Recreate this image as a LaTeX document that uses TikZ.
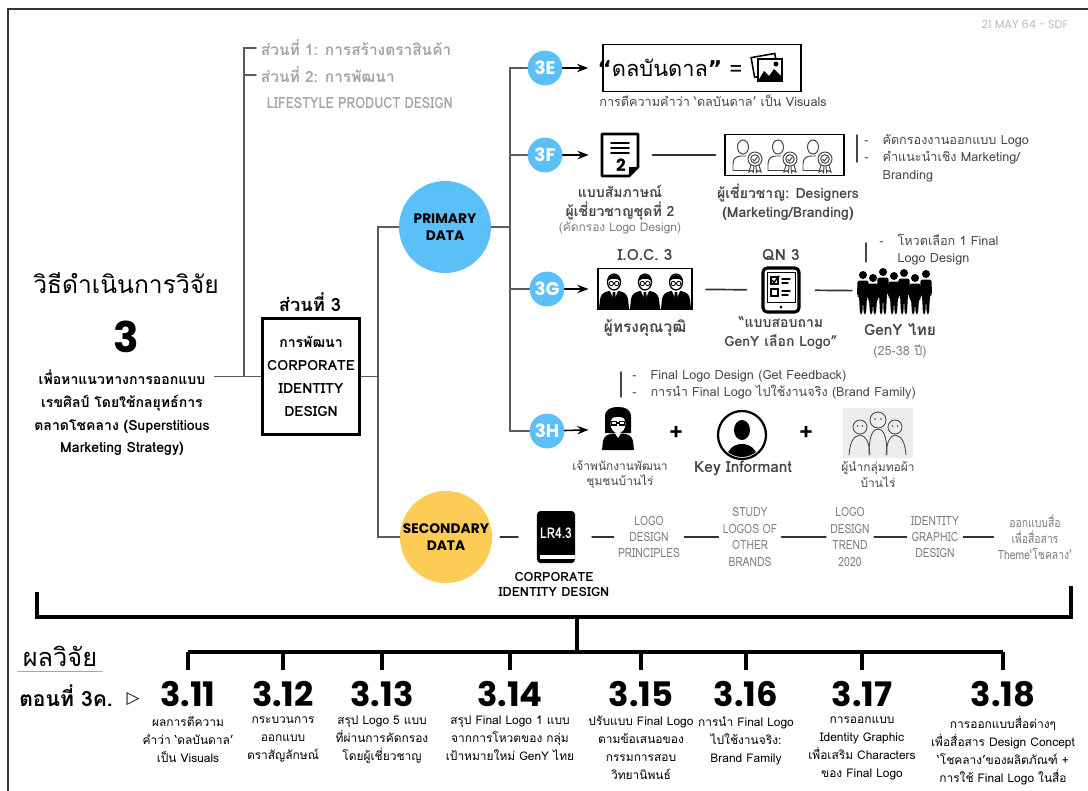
\documentclass[tikz,border=0pt]{standalone}
\usepackage{fontspec}
\setmainfont[Script=Thai]{Loma}
\newfontfamily\slim[Script=Thai, FakeStretch=0.82]{Loma}
\newfontfamily\gothic{Poppins}
\newfontfamily\symbols{DejaVu Sans}
\usetikzlibrary{arrows.meta}

\definecolor{skyblue}{HTML}{5BC0F8}
\definecolor{sunflower}{HTML}{FDCC56}
\definecolor{linegrey}{HTML}{5C5C5C}
\definecolor{softgrey}{HTML}{A5A5A5}
\definecolor{textgrey}{HTML}{474747}
\definecolor{litgrey}{HTML}{7C7C7C}
\definecolor{dategrey}{HTML}{B3BBBF}

\tikzset{
  tree/.style={draw=linegrey, line width=1.1pt},
  brk/.style={draw=black, line width=2.6pt, line cap=butt},
  seg/.style={draw=black!80, line width=1.2pt},
  datadot/.style={circle, minimum size=2.3cm, inner sep=0pt, align=center,
    font=\gothic\bfseries\fontsize{9.8}{12}\selectfont},
  stage/.style={circle, fill=skyblue, minimum size=0.87cm, inner sep=0pt,
    text=white, font=\gothic\bfseries\fontsize{13}{13}\selectfont},
  captxt/.style={align=center, text=textgrey, font=\fontsize{9}{11}\selectfont},
  capbold/.style={align=center, text=textgrey, font=\bfseries\fontsize{10}{13.5}\selectfont},
  lit/.style={align=center, text=litgrey, inner sep=3pt, font=\slim\fontsize{9}{11.7}\selectfont},
  note/.style={anchor=base west, inner sep=0pt, text=textgrey, font=\fontsize{9}{12.5}\selectfont},
  notebar/.style={draw=textgrey, line width=1pt},
  resnum/.style={font=\gothic\bfseries\fontsize{24}{24}\selectfont},
  resdesc/.style={anchor=north, align=center, inner sep=0pt, font=\fontsize{8.5}{12.8}\selectfont},
}

\begin{document}
\begin{tikzpicture}[x=0.025cm, y=-0.025cm, >=Stealth, line cap=round]
\useasboundingbox (0,0) rectangle (1088,791);
% กรอบหน้า
\draw[line width=1.4pt, draw=black!80] (8,791) -- (8,9) -- (1088,9);
\node[text=dategrey, font=\gothic\fontsize{8}{8}\selectfont] (stamp) at (1025,24) {21 MAY 64 - SDF};

% หัวข้อด้านซ้าย
\node[font=\fontsize{17.5}{20}\selectfont] (title) at (126,283) {วิธีดำเนินการวิจัย};
\node[font=\gothic\bfseries\fontsize{30}{30}\selectfont] (bigthree) at (126,337) {3};
\node[align=center, font=\bfseries\fontsize{10}{16.2}\selectfont] (purpose) at (122,413)
  {เพื่อหาแนวทางการออกแบบ\\เรขศิลป์ โดยใช้กลยุทธ์การ\\ตลาดโชคลาง (Superstitious\\Marketing Strategy)};

% ส่วนที่ 1-3
\coordinate (spineA) at (244,376.5);
\node[anchor=west, text=softgrey, font=\bfseries\fontsize{11}{11}\selectfont] (part1) at (256,48) {ส่วนที่ 1: การสร้างตราสินค้า};
\node[anchor=west, text=softgrey, font=\bfseries\fontsize{11}{11}\selectfont] (part2) at (256,75) {ส่วนที่ 2: การพัฒนา};
\node[anchor=west, text=softgrey, font=\slim\bfseries\fontsize{11}{11}\selectfont] (part2b) at (262,103) {LIFESTYLE PRODUCT DESIGN};
\node[font=\bfseries\fontsize{13}{13}\selectfont] (part3) at (310,302) {ส่วนที่ 3};
\node[draw, line width=2.6pt, minimum width=2.4cm, minimum height=2.9cm, align=center,
  font=\bfseries\fontsize{10}{16.2}\selectfont] (part3box) at (311,376.5) {การพัฒนา\\CORPORATE\\IDENTITY\\DESIGN};
\draw[tree] (part1.west) -- (part1.west -| spineA) -- (spineA);
\draw[tree] (part2.west) -- (part2.west -| spineA);
\draw[tree] (purpose.east |- part3box.west) -- (part3box.west);

% primary / secondary
\coordinate (spineB) at (378,376.5);
\node[datadot, fill=skyblue] (primary) at (445,227) {PRIMARY\\DATA};
\node[datadot, fill=sunflower] (secondary) at (446,537) {SECONDARY\\DATA};
\draw[tree] (part3box.east) -- (spineB);
\draw[tree] (primary.west) -- (primary.west -| spineB) -- (secondary.west -| spineB) -- (secondary.west);

% ขั้นตอน 3E-3H
\coordinate (spineC) at (510,227);
\node[stage] (s3e) at (545,68) {3E};
\node[stage] (s3f) at (545,155) {3F};
\node[stage] (s3g) at (547,289) {3G};
\node[stage] (s3h) at (547,431) {3H};
\draw[tree] (primary.east) -- (spineC);
\draw[tree] (s3e.west) -- (s3e.west -| spineC) -- (s3h.west -| spineC) -- (s3h.west);
\draw[tree] (s3f.west) -- (s3f.west -| spineC);
\draw[tree] (s3g.west) -- (s3g.west -| spineC);

% 3E
\node[draw, line width=1.1pt, minimum width=4.95cm, minimum height=1.175cm] (box3e) at (702,68) {};
\draw[->, line width=1.1pt, shorten >=0.35cm] (s3e) -- (box3e);
\node[font=\fontsize{15.5}{15.5}\selectfont] (word3e) at (670,68) {{\symbols\bfseries “}ดลบันดาล{\symbols\bfseries ”} =};
\node[minimum width=0.8cm, minimum height=0.8cm] (pic3e) at (767,67) {};
\begin{scope}[shift={(pic3e.center)}]
  \draw[line width=1.1pt, rotate=10] (-14,-12) rectangle (10,8);
  \filldraw[fill=white, line width=1.4pt] (-9,-8) rectangle (15,14);
  \fill (-9,14) -- (-3,4) -- (2,9) -- (7,2) -- (15,10) -- (15,14) -- cycle;
  \fill (9,-3) circle (2.5);
\end{scope}
\node[captxt] (cap3e) at (713,101) {การตีความคำว่า ‘ดลบันดาล’ เป็น Visuals};

% 3F
\node[minimum width=0.95cm, minimum height=1.1cm, inner sep=0pt] (doc3f) at (620,155) {};
\begin{scope}[shift={(doc3f.center)}]
  \draw[line width=2pt, line join=round] (-18,-21) -- (18,-21) -- (18,12) -- (9,21) -- (-18,21) -- cycle;
  \fill (18,12) -- (9,12) -- (9,21) -- cycle;
  \foreach \yy in {-12,-7,-2} \draw[line width=1.2pt] (-9,\yy) -- (9,\yy);
  \node[font=\gothic\bfseries\fontsize{12}{12}\selectfont] (docnum) at (1,10) {2};
\end{scope}
\draw[->, line width=1.1pt, shorten >=0.3cm] (s3f) -- (doc3f);
\node[draw, line width=1pt, minimum width=2.975cm, minimum height=1.025cm] (experts3f) at (784.5,155) {};
\draw[seg, shorten <=0.33cm, shorten >=0.22cm] (doc3f) -- (experts3f);
\foreach \cx in {750,785,820} {
  \begin{scope}[shift={(\cx,155)}, draw=textgrey, line width=0.7pt]
    \draw (-7,-8) ellipse (5.5 and 7);
    \draw (-17,15) -- (-17,9) .. controls (-17,3) and (-13,1) .. (-9,1) -- (-4,1);
    \draw (-17,15) -- (-1,15);
    \draw[fill=white] (5,4) circle (7);
    \draw (5,4) circle (4.3);
    \draw (2.8,4.2) -- (4.3,6) -- (7.3,2.2);
    \draw (1,10) -- (-1,17) -- (2,15.5) -- (3.5,17.5) -- (4,11.5);
    \draw (6,11.5) -- (6.5,17.5) -- (8,15.5) -- (11,17) -- (9,10);
  \end{scope}
}
\node[capbold] (capdoc) at (620,202.5) {แบบสัมภาษณ์\\ผู้เชี่ยวชาญชุดที่ 2};
\node[captxt, text=litgrey, font=\fontsize{8.5}{10}\selectfont] (capdocnote) at (620,228) {(คัดกรอง Logo Design)};
\node[capbold] (capexp) at (788,202.5) {ผู้เชี่ยวชาญ: Designers\\(Marketing/Branding)};
\node[note] (notes3f) at (864,144) {\begin{tabular}[t]{@{}l@{\hspace{10pt}}l@{}}- & คัดกรองงานออกแบบ Logo\\- & คำแนะนำเชิง Marketing/\\ & Branding\end{tabular}};
\draw[notebar] ([shift={(-7,-9)}]notes3f.base west) -- ++(0,27);

% 3G
\node[font=\bfseries\fontsize{11}{11}\selectfont, text=textgrey] (ioctitle) at (645,255) {I.O.C. 3};
\node[draw, line width=1pt, minimum width=2.35cm, minimum height=1.025cm] (ioc3g) at (645,289) {};
\draw[->, line width=1.1pt, shorten >=0.22cm] (s3g) -- (ioc3g);
\foreach \cx in {614,645,676} {
  \begin{scope}[shift={(\cx,289)}]
    \fill (-15,20) -- (-14,10) .. controls (-13,5) and (-10,3) .. (-5,2) -- (5,2) .. controls (10,3) and (13,5) .. (14,10) -- (15,20) -- cycle;
    \fill[white] (-4,2) -- (0,11) -- (4,2) -- cycle;
    \fill (-1.3,3) -- (1.3,3) -- (1.8,12) -- (0,14) -- (-1.8,12) -- cycle;
    \draw[fill=white, line width=0.9pt] (0,-7) ellipse (6.5 and 8);
    \fill (-6.5,-8) .. controls (-7,-16) and (7,-16) .. (6.5,-8) .. controls (4,-11) and (-4,-11) .. cycle;
    \draw[line width=0.6pt] (-2.7,-5.5) circle (2.2) (2.7,-5.5) circle (2.2);
  \end{scope}
}
\node[font=\bfseries\fontsize{11}{11}\selectfont, text=textgrey] (qntitle) at (781,255) {QN 3};
\node[draw, line width=2.2pt, rounded corners=3pt, minimum width=0.9cm, minimum height=1.1cm] (qn3g) at (781,290) {};
\begin{scope}[shift={(qn3g.center)}, line width=1pt]
  \draw[line width=0.6pt] (-14,-18) rectangle (14,12);
  \draw (-10,-13) rectangle (-3,-6);
  \draw (-9,-10) -- (-7,-7.5) -- (-2,-14);
  \draw (1,-11) -- (9,-11) (1,-7) -- (7,-7);
  \draw (-10,-1) rectangle (-3,6);
  \draw (1,1) -- (9,1) (1,5) -- (7,5);
  \fill (0,17) circle (1.5);
\end{scope}
\draw[seg, shorten <=0.33cm, shorten >=0.37cm] (ioc3g) -- (qn3g);
\node[minimum width=1.95cm, minimum height=1.2cm, inner sep=0pt] (geny3g) at (896,291) {};
\draw[seg, shorten <=0.37cm, shorten >=0.12cm] (qn3g) -- (geny3g);
\begin{scope}[shift={(geny3g.center)}]
  \foreach \x/\t in {-33/-20, -23/-17, -13/-23, -2/-19, 8/-22, 19/-17, 30/-21} {
    \fill (\x,\t+4) circle (4);
    \fill[rounded corners=1.5] (\x-5.5,\t+9.5) -- (\x+5.5,\t+9.5) -- (\x+6,\t+25) -- (\x+4,\t+25)
      -- (\x+3,23) -- (\x+0.7,23) -- (\x,\t+29) -- (\x-0.7,23) -- (\x-3,23)
      -- (\x-4,\t+25) -- (\x-6,\t+25) -- cycle;
  }
\end{scope}
\node[capbold, font=\bfseries\fontsize{11}{11}\selectfont] (capioc) at (645,328) {ผู้ทรงคุณวุฒิ};
\node[capbold] (capqn) at (781,333.5) {“แบบสอบถาม\\GenY เลือก Logo”};
\node[capbold, font=\bfseries\fontsize{11}{11}\selectfont] (capgeny) at (900,330) {GenY ไทย};
\node[captxt, text=litgrey] (agegeny) at (900,351) {(25-38 ปี)};
\node[note] (notes3g) at (879,245) {\begin{tabular}[t]{@{}l@{\hspace{10pt}}l@{}}- & โหวตเลือก 1 Final\\ & Logo Design\end{tabular}};
\draw[notebar] ([shift={(-13,-2)}]notes3g.base west) -- ++(0,19);

% 3H
\node[note] (notes3h) at (632,379) {\begin{tabular}[t]{@{}l@{\hspace{10pt}}l@{}}- & Final Logo Design (Get Feedback)\\- & การนำ Final Logo ไปใช้งานจริง (Brand Family)\end{tabular}};
\draw[notebar] ([shift={(-11,-7)}]notes3h.base west) -- ++(0,25);
\node[minimum width=0.9cm, minimum height=1.1cm, inner sep=0pt] (woman3h) at (618,429) {};
\begin{scope}[shift={(woman3h.center)}]
  % ผมยาว
  \fill (-13,4) -- (-13,-12) .. controls (-13,-20) and (-7,-22) .. (0,-22) .. controls (7,-22) and (13,-20) .. (13,-12) -- (13,4) -- cycle;
  % หน้า
  \fill[white] (0,-5) ellipse (7.5 and 9);
  \fill (-7.5,-10) .. controls (-3,-13) and (3,-13) .. (7.5,-10) -- (7.5,-15) -- (-7.5,-15) -- cycle;
  \draw[line width=0.8pt] (-6.2,-7.5) rectangle (-1.2,-4) (1.2,-7.5) rectangle (6.2,-4);
  \draw[line width=0.8pt] (-1.2,-6) -- (1.2,-6);
  % ตัว
  \fill (-16,21) -- (-15,12) .. controls (-14,7) and (-10,5) .. (-5,4.5) -- (5,4.5) .. controls (10,5) and (14,7) .. (15,12) -- (16,21) -- cycle;
  \fill[white] (-3.5,3.5) -- (0,9) -- (3.5,3.5) -- cycle;
\end{scope}
\draw[->, line width=1.1pt, shorten >=0.28cm] (s3h) -- (woman3h);
\node[font=\bfseries\fontsize{17}{17}\selectfont] (plus1) at (676,433) {+};
\node[circle, draw, line width=1.6pt, minimum size=1.2cm, inner sep=0pt] (key3h) at (742,435) {};
\begin{scope}[shift={(key3h.center)}]
  \begin{scope}
    \clip (0,0) circle (22);
    \fill (0,22) ellipse (15 and 13);
  \end{scope}
  \fill (0,-5) ellipse (8 and 10);
\end{scope}
\node[font=\bfseries\fontsize{17}{17}\selectfont] (plus2) at (806,433) {+};
\node[fill=black!7, minimum width=1.75cm, minimum height=1.25cm] (group3h) at (878,433) {};
\begin{scope}[shift={(group3h.center)}, draw=textgrey, line width=0.6pt]
  \draw (-18,-6) circle (7) (0,-13) circle (8) (17,-6) circle (7);
  \draw (-29,22) .. controls (-28,8) and (-24,3) .. (-18,2) .. controls (-12,3) and (-9,8) .. (-8,22);
  \draw (-9,22) .. controls (-9,2) and (-5,-4) .. (0,-4) .. controls (5,-4) and (9,2) .. (9,22);
  \draw (8,22) .. controls (9,8) and (12,3) .. (17,2) .. controls (23,3) and (27,8) .. (28,22);
  \foreach \ex/\ey in {-20.5/-7, -15.5/-7, -3/-14, 3/-14, 14.5/-7, 19.5/-7} \fill[textgrey] (\ex,\ey) circle (0.8);
\end{scope}
\node[captxt, font=\fontsize{8.5}{11}\selectfont] (capwoman) at (620,474.5) {เจ้าพนักงานพัฒนา\\ชุมชนบ้านไร่};
\node[capbold, font=\bfseries\fontsize{11}{11}\selectfont] (capkey) at (743,468) {Key Informant};
\node[captxt, font=\fontsize{8.5}{11}\selectfont] (capgroup) at (878,474.5) {ผู้นำกลุ่มทอผ้า\\บ้านไร่};

% secondary data
\node[fill=black, rounded corners=2.5pt, minimum width=0.95cm, minimum height=1.3cm, inner sep=0pt,
  text=white, font=\slim\bfseries\fontsize{10.5}{10.5}\selectfont] (book) at (556,537) {\raisebox{5pt}{LR4.3}};
\fill[white] ([shift={(3,-8)}]book.south west) rectangle ([shift={(0,-4)}]book.south east);
\draw[seg, shorten <=0.2cm, shorten >=0.47cm] (secondary.east) -- (secondary.east -| book.west);
\node[capbold, text=black, font=\bfseries\fontsize{9}{10.7}\selectfont] (capbook) at (554,584.5) {CORPORATE\\IDENTITY DESIGN};
\node[lit] (lit1) at (649,537) {LOGO\\DESIGN\\PRINCIPLES};
\node[lit] (lit2) at (750,537) {STUDY\\LOGOS OF\\OTHER\\BRANDS};
\node[lit] (lit3) at (850,537) {LOGO\\DESIGN\\TREND\\2020};
\node[lit] (lit4) at (935,537) {IDENTITY\\GRAPHIC\\DESIGN};
\node[lit] (lit5) at (1035,537) {ออกแบบสื่อ\\เพื่อสื่อสาร\\Theme‘โชคลาง’};
\draw[seg, shorten <=0.42cm] (book) -- (lit1);
\draw[seg] (lit1) -- (lit2);
\draw[seg] (lit2) -- (lit3);
\draw[seg] (lit3) -- (lit4);
\draw[seg] (lit4) -- (lit5);

% ผลวิจัย
\node[font=\fontsize{18}{18}\selectfont] (reslabel) at (60,656) {ผลวิจัย};
\draw[softgrey, line width=1pt] (reslabel.south west) -- (reslabel.south east);
\node[font=\bfseries\fontsize{15}{15}\selectfont] (episode) at (66,696) {ตอนที่ 3ค.};
\node[font=\symbols\fontsize{12}{12}\selectfont] (pointer) at (133,699) {▷};
\foreach \n/\x in {311/188, 312/283, 313/382, 314/510, 315/641, 316/746, 317/862, 318/1003}
  \node[resnum] (n\n) at (\x,694) {3.\the\numexpr\n-300\relax};
\node[resdesc] (d311) at (188,716) {ผลการตีความ\\คำว่า ‘ดลบันดาล’\\เป็น Visuals};
\node[resdesc] (d312) at (283,716) {กระบวนการ\\ออกแบบ\\ตราสัญลักษณ์};
\node[resdesc] (d313) at (382,716) {สรุป Logo 5 แบบ\\ที่ผ่านการคัดกรอง\\โดยผู้เชี่ยวชาญ};
\node[resdesc] (d314) at (510,716) {สรุป Final Logo 1 แบบ\\จากการโหวตของ กลุ่ม\\เป้าหมายใหม่ GenY ไทย};
\node[resdesc] (d315) at (641,716) {ปรับแบบ Final Logo\\ตามข้อเสนอของ\\กรรมการสอบ\\วิทยานิพนธ์};
\node[resdesc] (d316) at (746,716) {การนำ Final Logo\\ไปใช้งานจริง:\\Brand Family};
\node[resdesc] (d317) at (862,716) {การออกแบบ\\Identity Graphic\\เพื่อเสริม Characters\\ของ Final Logo};
\node[resdesc] (d318) at (1003,716) {การออกแบบสื่อต่างๆ\\เพื่อสื่อสาร Design Concept\\‘โชคลาง’ของผลิตภัณฑ์ +\\การใช้ Final Logo ในสื่อ};

% วงเล็บรวม
\coordinate (lbr) at (37,592);
\coordinate (rbr) at (1071,586);
\coordinate (stem) at (577,617);
\coordinate (lowbar) at (577,652);
\draw[brk] (lbr) -- (lbr |- stem) -- (rbr |- stem) -- (rbr);
\draw[brk] (stem) -- (lowbar);
\draw[brk] (n311 |- lowbar) -- (n318 |- lowbar);
\foreach \n in {311,...,318}
  \draw[brk, shorten >=0.16cm] (n\n |- lowbar) -- (n\n.north);
\end{tikzpicture}
\end{document}
